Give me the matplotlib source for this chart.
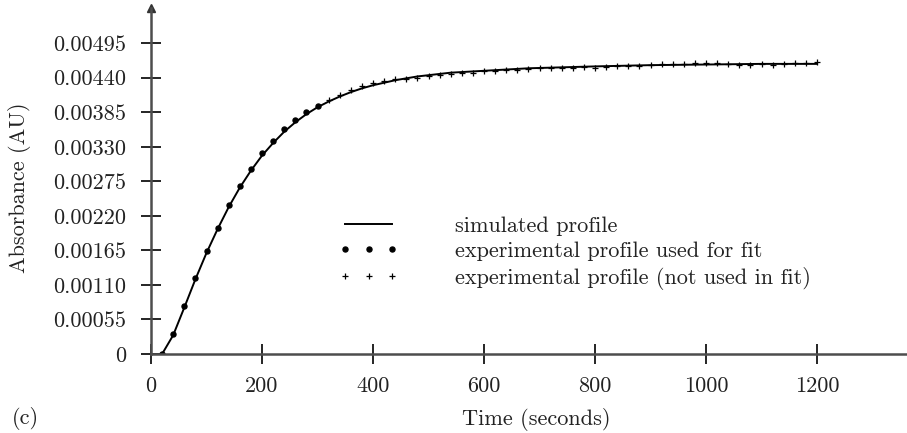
import matplotlib
matplotlib.use("Agg")
import matplotlib.pyplot as plt
from matplotlib.lines import Line2D

plt.rcParams['font.family'] = ['cmr10', 'DejaVu Serif']
plt.rcParams['axes.formatter.use_mathtext'] = True

# simulated profile
sim_t = [20, 40, 60, 80, 100, 120, 140, 160, 180, 200, 220, 240, 260, 280, 300,
         320, 340, 360, 380, 400, 420, 440, 460, 480, 500, 520, 540, 560, 580, 600,
         640, 680, 720, 760, 800, 850, 900, 1000, 1100, 1200]
sim_y = [0.0, 0.00030, 0.00074, 0.00119, 0.00161, 0.00199, 0.00234, 0.00265, 0.00292, 0.00316,
         0.00336, 0.00354, 0.00369, 0.00382, 0.00393, 0.00402, 0.00410, 0.00417, 0.00423, 0.00428,
         0.00432, 0.00436, 0.00439, 0.00442, 0.00444, 0.00446, 0.00448, 0.00449, 0.00450, 0.00451,
         0.00453, 0.00455, 0.00456, 0.00457, 0.00458, 0.00459, 0.00460, 0.00461, 0.00462, 0.00462]

# experimental points used for the fit
fit_t = [20, 40, 60, 80, 100, 120, 140, 160, 180, 200, 220, 240, 260, 280, 300]
fit_y = [0.0, 0.00032, 0.00076, 0.00121, 0.00164, 0.00200, 0.00237, 0.00268, 0.00294, 0.00320,
         0.00339, 0.00358, 0.00372, 0.00386, 0.00395]

# experimental points not used in the fit
nofit_t = [320, 340, 360, 380, 400, 420, 440, 460, 480, 500, 520, 540, 560, 580, 600,
           620, 640, 660, 680, 700, 720, 740, 760, 780, 800, 820, 840, 860, 880, 900,
           920, 940, 960, 980, 1000, 1020, 1040, 1060, 1080, 1100, 1120, 1140, 1160, 1180, 1200]
nofit_y = [0.00405, 0.00413, 0.00420, 0.00426, 0.00431, 0.00435, 0.00438, 0.00438, 0.00440, 0.00442,
           0.00444, 0.00446, 0.00447, 0.00448, 0.00450, 0.00451, 0.00452, 0.00453, 0.00454, 0.00455,
           0.00455, 0.00456, 0.00456, 0.00457, 0.00456, 0.00457, 0.00458, 0.00458, 0.00459, 0.00461,
           0.00462, 0.00462, 0.00462, 0.00463, 0.00464, 0.00463, 0.00462, 0.00461, 0.00461, 0.00462,
           0.00461, 0.00462, 0.00463, 0.00463, 0.00465]

xticks = [0, 200, 400, 600, 800, 1000, 1200]
yticks = [0, 0.00055, 0.00110, 0.00165, 0.00220, 0.00275, 0.00330, 0.00385, 0.00440, 0.00495]
ytick_labels = ["0", "0.00055", "0.00110", "0.00165", "0.00220", "0.00275",
                "0.00330", "0.00385", "0.00440", "0.00495"]

FS = 16
TXT = '#222222'

fig = plt.figure(figsize=(9.07, 4.33), dpi=100)
ax = fig.add_axes([151 / 907, 79 / 433, 756 / 907, 346 / 433])

ax.plot(sim_t, sim_y, color='black', lw=1.4)
ax.plot(fit_t, fit_y, 'o', color='black', ms=3.6)
ax.plot(nofit_t, nofit_y, '+', color='black', ms=5, mew=0.9)

ax.set_xlim(0, 1362)
ax.set_ylim(0, 0.00551)

for s in ['top', 'right']:
    ax.spines[s].set_visible(False)
for s in ['left', 'bottom']:
    ax.spines[s].set_color('0.3')
    ax.spines[s].set_linewidth(1.8)

ax.set_xticks(xticks)
ax.set_xticklabels([str(v) for v in xticks])
ax.set_yticks(yticks)
ax.set_yticklabels(ytick_labels)
ax.tick_params(direction='inout', length=14, width=1.2, color='black',
               labelsize=FS, labelcolor=TXT)
ax.tick_params(axis='x', pad=9)
ax.tick_params(axis='y', pad=11)

# arrow at the top of the y axis
ax.plot(0, 1, marker='^', color='0.2', ms=6, transform=ax.transAxes, clip_on=False)

ax.set_xlabel("Time (seconds)", fontsize=FS, color=TXT)
ax.xaxis.set_label_coords(0.51, -0.155)
fig.text(20 / 907, 1 - 188 / 433, "Absorbance (AU)", rotation=90, ha='center', va='center',
         fontsize=FS, color=TXT)
fig.text(12 / 907, 1 - 418 / 433, "(c)", ha='left', va='center', fontsize=FS, color=TXT)

handles = [
    Line2D([], [], color='black', lw=1.4),
    Line2D([], [], color='black', ls='none', marker='o', ms=3.6),
    Line2D([], [], color='black', ls='none', marker='+', ms=5, mew=0.9),
]
labels = ["simulated profile", "experimental profile used for fit",
          "experimental profile (not used in fit)"]
fig.legend(handles, labels, loc='center left', bbox_to_anchor=(338 / 907, 1 - 253 / 433),
           frameon=False, numpoints=3, handlelength=2.75, handletextpad=2.5,
           borderpad=0, borderaxespad=0, labelspacing=0.25, fontsize=FS,
           labelcolor=TXT)

fig.savefig("out.png", dpi=100)
